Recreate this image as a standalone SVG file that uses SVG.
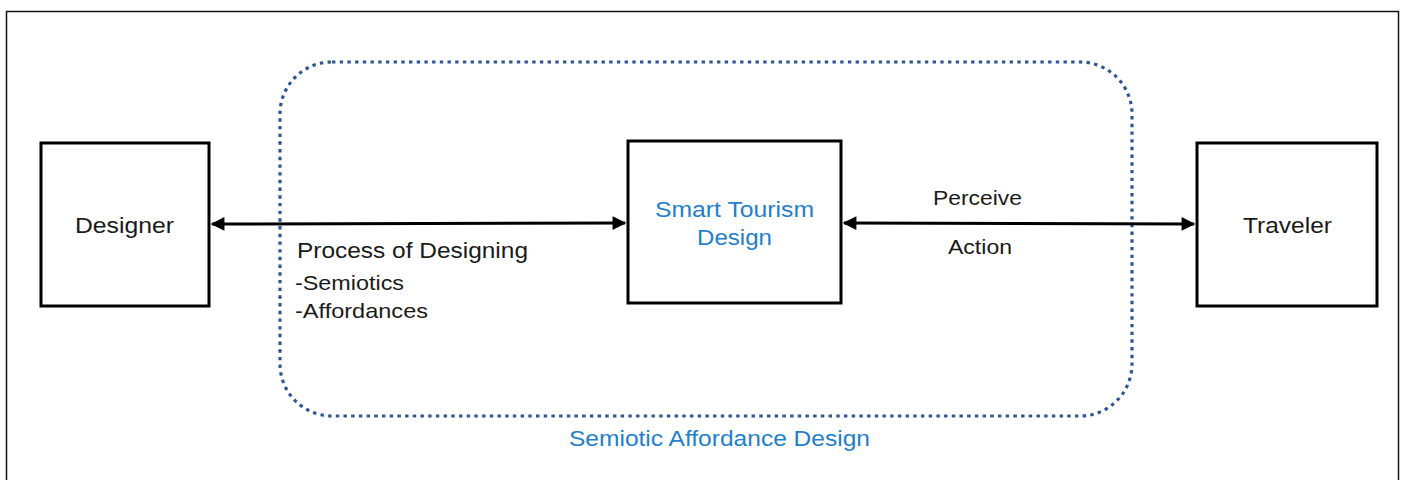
<svg xmlns="http://www.w3.org/2000/svg" width="1405" height="480" viewBox="0 0 1405 480">
<defs>
<style>
.box{fill:#fff;stroke:#000;stroke-width:3}
.t{font-family:"Liberation Sans",Arial,sans-serif;fill:#1a1a1a}
.b{font-family:"Liberation Sans",Arial,sans-serif;fill:#1f7fcc}
.conn{stroke:#000;stroke-width:3;fill:none}
</style>
<marker id="ah" viewBox="0 0 10 10" refX="9" refY="5" markerWidth="5.5" markerHeight="4.6" orient="auto-start-reverse" markerUnits="strokeWidth">
<path d="M0,0 L10,5 L0,10 Z" fill="#000"/>
</marker>
</defs>
<rect x="0" y="0" width="1405" height="480" fill="#fff"/>
<rect x="6.5" y="11.5" width="1392" height="480" fill="none" stroke="#111" stroke-width="1.5"/>
<g id="semiotic-affordance-design">
<rect x="280" y="62" width="852" height="354" rx="52" ry="52" fill="none" stroke="#2f5597" stroke-width="3.2" stroke-dasharray="3.4 4.3"/>
<text class="b" x="569" y="446" font-size="22" textLength="301" lengthAdjust="spacingAndGlyphs">Semiotic Affordance Design</text>
</g>
<g id="connectors">
<line class="conn" x1="212" y1="224" x2="625" y2="223" marker-start="url(#ah)" marker-end="url(#ah)"/>
<line class="conn" x1="844" y1="223" x2="1194" y2="224" marker-start="url(#ah)" marker-end="url(#ah)"/>
<text class="t" x="297" y="258" font-size="22" textLength="231" lengthAdjust="spacingAndGlyphs">Process of Designing</text>
<text class="t" x="295" y="290" font-size="21" textLength="109" lengthAdjust="spacingAndGlyphs">-Semiotics</text>
<text class="t" x="295" y="318" font-size="21" textLength="133" lengthAdjust="spacingAndGlyphs">-Affordances</text>
<text class="t" x="933" y="205" font-size="21" textLength="89" lengthAdjust="spacingAndGlyphs">Perceive</text>
<text class="t" x="948" y="254" font-size="21" textLength="64" lengthAdjust="spacingAndGlyphs">Action</text>
</g>
<g id="designer">
<rect class="box" x="41" y="143" width="168" height="163"/>
<text class="t" x="75" y="233" font-size="22" textLength="99" lengthAdjust="spacingAndGlyphs">Designer</text>
</g>
<g id="smart-tourism-design">
<rect class="box" x="628" y="141" width="213" height="162"/>
<text class="b" x="655" y="217" font-size="22" textLength="159" lengthAdjust="spacingAndGlyphs">Smart Tourism</text>
<text class="b" x="697" y="245" font-size="22" textLength="75" lengthAdjust="spacingAndGlyphs">Design</text>
</g>
<g id="traveler">
<rect class="box" x="1197" y="143" width="180" height="163"/>
<text class="t" x="1243" y="233" font-size="22" textLength="89" lengthAdjust="spacingAndGlyphs">Traveler</text>
</g>
</svg>
